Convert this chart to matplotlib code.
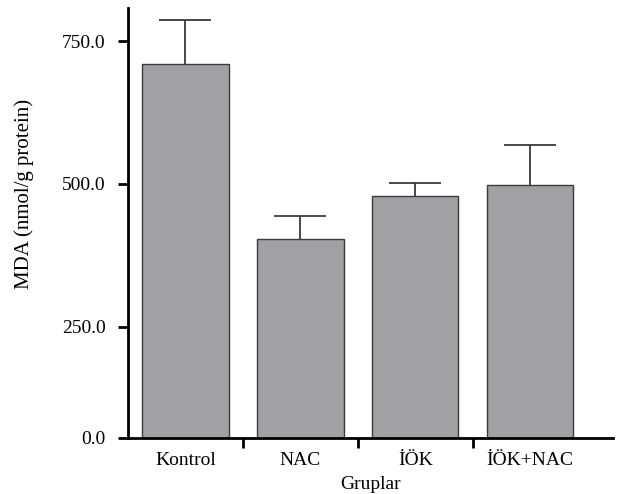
import numpy as np
import matplotlib.pyplot as plt

groups = ["Kontrol", "NAC", "İÖK", "İÖK+NAC"]
mda = [709.7, 403.6, 477.8, 497.7]
sem = [77.0, 40.5, 23.0, 69.5]

# the axis in the source starts a bit above zero but its bottom is labelled 0.0
y_bottom = 55.5
y_top = 808.0
ytick_vals = [y_bottom, 250, 500, 750]
ytick_labels = ["0.0", "250.0", "500.0", "750.0"]

plt.rcParams['font.family'] = ['Liberation Serif', 'DejaVu Serif']

fig = plt.figure(figsize=(6.17, 4.94), dpi=100)
ax = fig.add_axes([0.2075, 0.114, 0.786, 0.870])

x = np.arange(len(groups))
ax.bar(x, mda, width=0.75, color="#a0a1a5", edgecolor="#3a3a3a", linewidth=1.0, zorder=2)
eb = ax.errorbar(x, mda, yerr=[np.zeros(len(sem)), sem], fmt="none", ecolor="#3a3a3a",
                 elinewidth=1.3, capsize=18.7, capthick=1.3, zorder=1)
# only the upper whisker is shown
eb[1][0].set_visible(False)

ax.set_xlim(-0.5, 3.72)
ax.set_ylim(y_bottom, y_top)

ax.spines["top"].set_visible(False)
ax.spines["right"].set_visible(False)
ax.spines["left"].set_linewidth(2)
ax.spines["bottom"].set_linewidth(2)

ax.set_yticks(ytick_vals)
ax.set_yticklabels(ytick_labels, fontsize=14)
ax.tick_params(axis="y", direction="out", length=7, width=2, pad=9)

# ticks at group boundaries, labels at the bar centres
ax.set_xticks(x[:-1] + 0.5)
ax.set_xticklabels([])
ax.tick_params(axis="x", which="major", direction="out", length=7, width=2)
ax.set_xticks(x, minor=True)
ax.set_xticklabels(groups, minor=True, fontsize=14)
ax.tick_params(axis="x", which="minor", length=0, pad=10)

ax.set_ylabel("MDA (nmol/g protein)", fontsize=15)
ax.yaxis.set_label_coords(-0.194, 0.567)
ax.set_xlabel("Gruplar", fontsize=14, labelpad=5)

fig.savefig("out.png", dpi=100)
